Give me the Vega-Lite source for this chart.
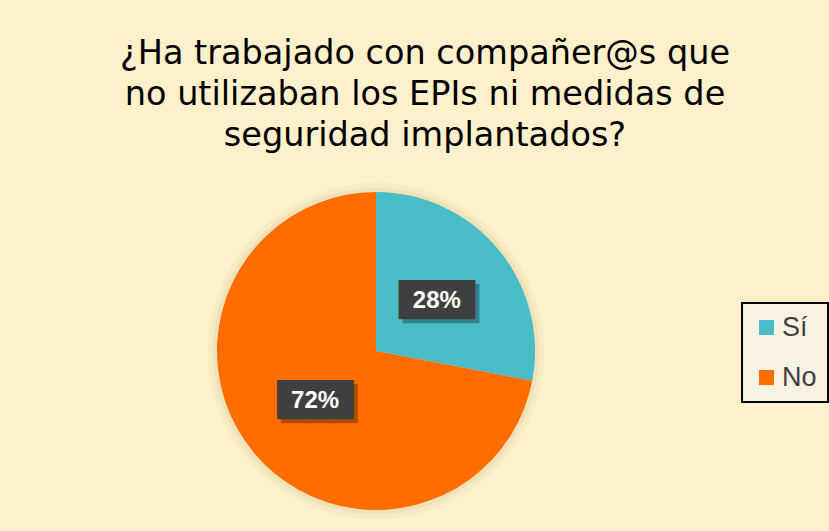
{
  "$schema": "https://vega.github.io/schema/vega-lite/v6.json",
  "width": 752,
  "height": 360,
  "autosize": {"type": "none"},
  "padding": {"left": 0, "top": 171, "right": 77, "bottom": 0},
  "background": "#FDF0CA",
  "view": {"stroke": null},
  "title": {
    "text": ["¿Ha trabajado con compañer@s que", "no utilizaban los EPIs ni medidas de", "seguridad implantados?"],
    "font": "DejaVu Sans",
    "fontSize": 33.5,
    "fontWeight": "normal",
    "color": "#000000",
    "lineHeight": 41,
    "anchor": "middle",
    "frame": "group",
    "dx": 49,
    "offset": 18
  },
  "data": {"values": [
    {"respuesta": "Sí", "valor": 0.28, "orden": 1},
    {"respuesta": "No", "valor": 0.72, "orden": 2}
  ]},
  "encoding": {
    "theta": {"field": "valor", "type": "quantitative", "stack": true},
    "order": {"field": "orden", "type": "quantitative"}
  },
  "layer": [
    {"mark": {"type": "arc", "outerRadius": 168, "color": "#EFE3BA", "opacity": 0.4}},
    {"mark": {"type": "arc", "outerRadius": 163, "color": "#E6D9AE", "opacity": 0.5}},
    {
      "mark": {"type": "arc", "outerRadius": 159},
      "encoding": {
        "color": {
          "field": "respuesta",
          "type": "nominal",
          "scale": {"domain": ["Sí", "No"], "range": ["#48BCC7", "#FF6D00"]},
          "legend": {
            "orient": "none",
            "legendX": 742,
            "legendY": 132,
            "title": null,
            "symbolType": "square",
            "symbolSize": 225,
            "symbolStrokeWidth": 0,
            "symbolOffset": 0,
            "labelFontSize": 27,
            "labelFont": "Liberation Sans",
            "labelColor": "#404040",
            "labelOffset": 2,
            "padding": 11,
            "rowPadding": 22,
            "fillColor": "#F8F2E2",
            "strokeColor": "#000000"
          }
        }
      }
    },
    {"mark": {"type": "text", "radius": 79, "text": "███", "font": "DejaVu Sans", "fontSize": 33, "color": "#000000", "opacity": 0.3, "dx": 4, "dy": 4, "baseline": "middle", "align": "center"}},
    {"mark": {"type": "text", "radius": 79, "text": "███", "font": "DejaVu Sans", "fontSize": 33, "color": "#3F3F3F", "baseline": "middle", "align": "center"}},
    {
      "mark": {"type": "text", "radius": 79, "font": "Liberation Sans", "fontWeight": "bold", "fontSize": 24, "color": "#FFFFFF", "baseline": "middle", "align": "center"},
      "encoding": {"text": {"field": "valor", "type": "quantitative", "format": ".0%"}}
    }
  ],
  "config": {"legend": {"strokeWidth": 2}}
}
